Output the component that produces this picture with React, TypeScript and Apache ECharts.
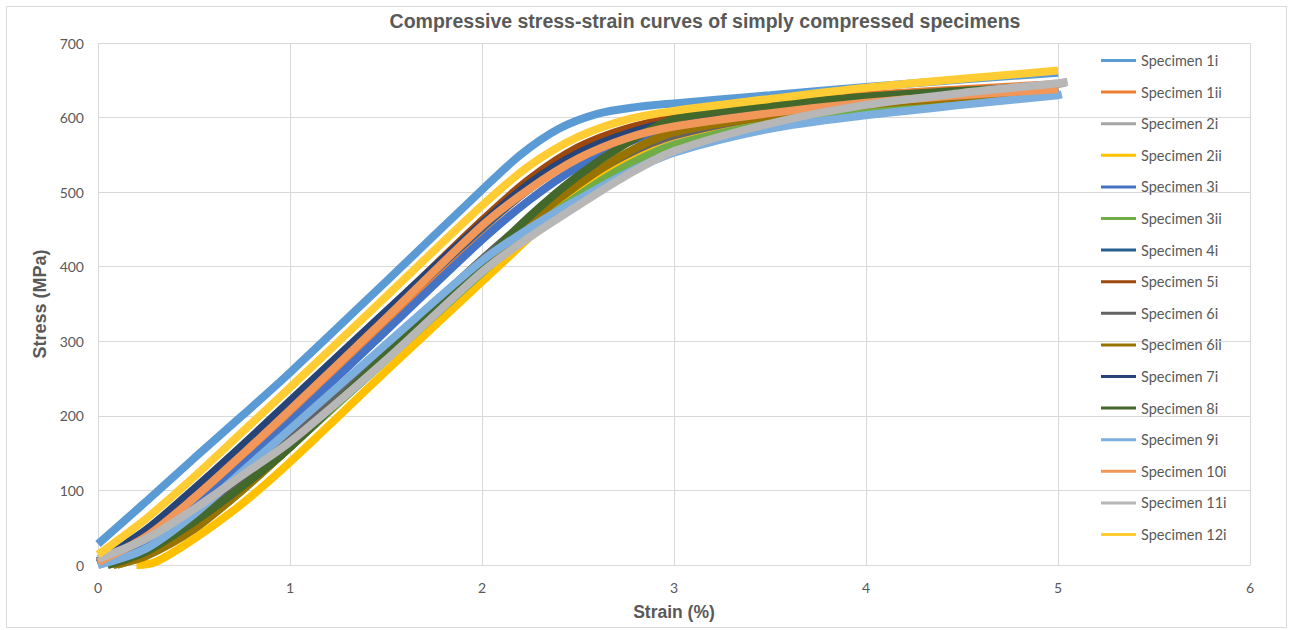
import React, { useEffect, useRef } from "react";
import * as echarts from "echarts";

const titleText = "Compressive stress-strain curves of simply compressed specimens";
const xAxisName = "Strain (%)";
const yAxisName = "Stress (MPa)";

const names = [
  "Specimen 1i", "Specimen 1ii", "Specimen 2i", "Specimen 2ii",
  "Specimen 3i", "Specimen 3ii", "Specimen 4i", "Specimen 5i",
  "Specimen 6i", "Specimen 6ii", "Specimen 7i", "Specimen 8i",
  "Specimen 9i", "Specimen 10i", "Specimen 11i", "Specimen 12i",
];

const colors = [
  "#5B9BD5", "#ED7D31", "#A5A5A5", "#FFC000",
  "#4472C4", "#70AD47", "#255E91", "#9E480E",
  "#636363", "#997300", "#264478", "#43682B",
  "#7CAFDD", "#F1975A", "#B7B7B7", "#FFCD33",
];

// [strain %, stress MPa]
const s1i = [[0,28],[0.25,85],[0.5,143],[0.75,200],[1,258],[1.5,380],[2,503],[2.2,550],[2.4,585],[2.6,605],[2.8,614],[3,619],[3.5,630],[4,641],[4.5,651],[5,660]];
const s1ii = [[0,2],[0.25,35],[0.5,88],[0.75,146],[1,206],[1.5,328],[2,450],[2.25,505],[2.5,548],[2.75,582],[3,602],[3.5,618],[4,630],[4.5,638],[5,645]];
const s2i = [[0,5],[0.25,30],[0.5,72],[0.75,122],[1,172],[1.5,288],[2,405],[2.25,455],[2.5,500],[2.75,538],[3,565],[3.5,597],[4,620],[4.5,635],[5,645],[5.04,647]];
const s2ii = [[0.2,0],[0.3,4],[0.5,35],[0.75,82],[1,138],[1.5,260],[2,380],[2.25,440],[2.5,500],[2.75,545],[3,575],[3.5,600],[4,617],[4.5,628],[5,637]];
const s3i = [[0,0],[0.25,27],[0.5,76],[0.75,133],[1,192],[1.5,314],[2,436],[2.25,490],[2.5,534],[2.75,566],[3,585],[3.5,604],[4,619],[4.5,630],[5,638]];
const s3ii = [[0.1,0],[0.25,14],[0.5,50],[0.75,100],[1,158],[1.5,275],[2,392],[2.25,447],[2.5,495],[2.75,535],[3,563],[3.5,592],[4,607],[4.5,620],[5,632]];
const s4i = [[0,2],[0.25,40],[0.5,95],[0.75,152],[1,212],[1.5,333],[2,452],[2.25,505],[2.5,548],[2.75,576],[3,592],[3.5,609],[4,622],[4.5,632],[5,641]];
const s5i = [[0,3],[0.25,38],[0.5,92],[0.75,152],[1,214],[1.5,338],[2,462],[2.25,518],[2.5,560],[2.75,585],[3,598],[3.5,614],[4,625],[4.5,633],[5,640]];
const s6i = [[0.05,0],[0.25,18],[0.5,60],[0.75,112],[1,168],[1.5,290],[2,410],[2.25,465],[2.5,512],[2.75,550],[3,576],[3.5,603],[4,620],[4.5,631],[5,640]];
const s6ii = [[0.08,0],[0.25,12],[0.5,48],[0.75,100],[1,158],[1.5,280],[2,402],[2.25,460],[2.5,510],[2.75,552],[3,580],[3.5,602],[4,617],[4.5,627],[5,635]];
const s7i = [[0,5],[0.25,47],[0.5,102],[0.75,160],[1,220],[1.5,340],[2,458],[2.25,512],[2.5,552],[2.75,578],[3,594],[3.5,610],[4,622],[4.5,631],[5,638]];
const s8i = [[0.05,0],[0.25,18],[0.5,58],[0.75,105],[1,158],[1.5,282],[2,405],[2.25,468],[2.5,522],[2.75,565],[3,598],[3.5,616],[4,628],[4.5,636],[5,642]];
const s9i = [[0,0],[0.25,22],[0.5,68],[0.75,125],[1,182],[1.5,296],[2,408],[2.25,452],[2.5,490],[2.75,525],[3,553],[3.5,585],[4,603],[4.5,617],[5,630],[5.02,631]];
const s10i = [[0,4],[0.25,38],[0.5,90],[0.75,148],[1,208],[1.5,331],[2,455],[2.25,505],[2.5,545],[2.75,572],[3,588],[3.5,606],[4,620],[4.5,630],[5,638]];
const s11i = [[0,8],[0.25,35],[0.5,75],[0.75,120],[1,165],[1.5,275],[2,393],[2.25,440],[2.5,482],[2.75,522],[3,555],[3.5,592],[4,617],[4.5,633],[5,646],[5.05,648]];
const s12i = [[0,14],[0.25,62],[0.5,118],[0.75,178],[1,238],[1.5,360],[2,482],[2.25,536],[2.5,574],[2.75,597],[3,609],[3.5,625],[4,640],[4.5,652],[5,663]];

const seriesData = [s1i, s1ii, s2i, s2ii, s3i, s3ii, s4i, s5i, s6i, s6ii, s7i, s8i, s9i, s10i, s11i, s12i];

const xMin = 0, xMax = 6, xStep = 1;
const yMin = 0, yMax = 700, yStep = 100;

export default function App() {
  const ref = useRef<HTMLDivElement>(null);
  useEffect(() => {
    document.body.style.margin = "0";
    const chart = echarts.init(ref.current!, null, { renderer: "svg" });
    const labelFont = "Lato, 'Open Sans', sans-serif";
    const boldFont = "'Liberation Sans', Arial, sans-serif";
    chart.setOption({
      animation: false,
      backgroundColor: "#ffffff",
      graphic: [
        {
          type: "rect",
          shape: { x: 6.5, y: 6.5, width: 1280, height: 621 },
          style: { fill: "none", stroke: "#d9d9d9", lineWidth: 1 },
          silent: true,
          z: -10,
        },
        {
          type: "text",
          x: 705,
          y: 21,
          style: {
            text: titleText,
            fill: "#595959",
            font: "bold 19.5px 'Liberation Sans', Arial, sans-serif",
            textAlign: "center",
            textVerticalAlign: "middle",
          },
        },
      ],
      grid: { left: 98, right: 41, top: 43, bottom: 65, containLabel: false },
      legend: {
        orient: "vertical",
        left: 1101,
        top: 53,
        padding: 0,
        icon: "rect",
        itemWidth: 35,
        itemHeight: 3,
        itemGap: 16.6,
        data: names,
        textStyle: { color: "#595959", fontSize: 14.5, lineHeight: 14, fontFamily: labelFont },
      },
      xAxis: {
        type: "value",
        min: xMin,
        max: xMax,
        interval: xStep,
        name: xAxisName,
        nameLocation: "middle",
        nameGap: 38,
        nameTextStyle: { color: "#595959", fontSize: 17.5, fontWeight: "bold", fontFamily: boldFont },
        axisLine: { show: true, lineStyle: { color: "#d9d9d9" } },
        axisTick: { show: false },
        axisLabel: { color: "#595959", fontSize: 14, fontFamily: labelFont, margin: 15 },
        splitLine: { show: true, lineStyle: { color: "#d9d9d9", width: 1 } },
      },
      yAxis: {
        type: "value",
        min: yMin,
        max: yMax,
        interval: yStep,
        name: yAxisName,
        nameLocation: "middle",
        nameGap: 48,
        nameTextStyle: { color: "#595959", fontSize: 18, fontWeight: "bold", fontFamily: boldFont },
        axisLine: { show: false },
        axisTick: { show: false },
        axisLabel: { color: "#595959", fontSize: 14, fontFamily: labelFont, margin: 14 },
        splitLine: { show: true, lineStyle: { color: "#d9d9d9", width: 1 } },
      },
      series: seriesData.map((d, i) => ({
        type: "line",
        name: names[i],
        data: d,
        showSymbol: false,
        symbol: "none",
        smooth: 0.3,
        lineStyle: { color: colors[i], width: 8 },
        itemStyle: { color: colors[i] },
      })),
    });
    return () => chart.dispose();
  }, []);
  return <div ref={ref} style={{ width: 1291, height: 630 }} />;
}
